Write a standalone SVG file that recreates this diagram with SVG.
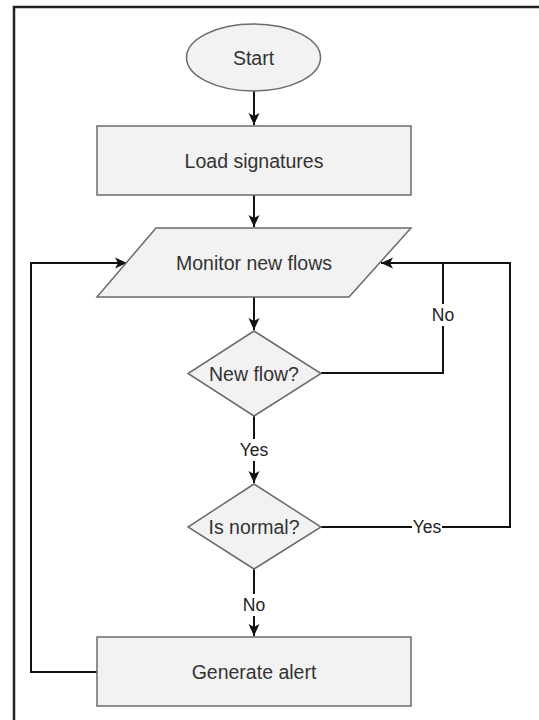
<svg xmlns="http://www.w3.org/2000/svg" width="539" height="720" viewBox="0 0 539 720">
<style>
.node{fill:#f2f2f2;stroke:#6b6b6b;stroke-width:1.5}
.t{font-family:"Liberation Sans",Arial,sans-serif;font-size:19.5px;fill:#333;text-anchor:middle}
.lbl{font-family:"Liberation Sans",Arial,sans-serif;font-size:17.5px;fill:#222;text-anchor:middle}
.c{fill:none;stroke:#111;stroke-width:2}
.bg{fill:#fff}
</style>
<defs>
<marker id="ah" markerUnits="userSpaceOnUse" markerWidth="14" markerHeight="12" refX="12" refY="6" orient="auto">
<path d="M12,6 L0,0.5 L3,6 L0,11.5 Z" fill="#111"/>
</marker>
</defs>
<rect width="539" height="720" fill="#fff"/>
<polyline points="14,720 14,7 539,7" fill="none" stroke="#222" stroke-width="2.5"/>
<g id="connectors">
<line class="c" x1="254" y1="91" x2="254" y2="125" marker-end="url(#ah)"/>
<line class="c" x1="254" y1="195" x2="254" y2="227" marker-end="url(#ah)"/>
<line class="c" x1="254" y1="297" x2="254" y2="330" marker-end="url(#ah)"/>
<line class="c" x1="254" y1="416" x2="254" y2="483" marker-end="url(#ah)"/>
<line class="c" x1="254" y1="569" x2="254" y2="636" marker-end="url(#ah)"/>
<polyline class="c" points="97,672 31,672 31,263 127,263" marker-end="url(#ah)"/>
<polyline class="c" points="321,373 443,373 443,263 381,263" marker-end="url(#ah)"/>
<polyline class="c" points="321,527 510,527 510,263 443,263"/>
<rect class="bg" x="240" y="439" width="28" height="22"/>
<text class="lbl" x="254" y="456">Yes</text>
<rect class="bg" x="431" y="304" width="24" height="22"/>
<text class="lbl" x="443" y="321">No</text>
<rect class="bg" x="412" y="516" width="30" height="22"/>
<text class="lbl" x="427" y="533">Yes</text>
<rect class="bg" x="242" y="594" width="24" height="22"/>
<text class="lbl" x="254" y="611">No</text>
</g>
<g id="start">
<ellipse class="node" cx="253.5" cy="57.5" rx="67" ry="33.5"/>
<text class="t" x="253.5" y="64.5">Start</text>
</g>
<g id="load">
<rect class="node" x="97" y="126" width="314" height="69"/>
<text class="t" x="254" y="167.5">Load signatures</text>
</g>
<g id="monitor">
<polygon class="node" points="156,228 411,228 349,297 97,297"/>
<text class="t" x="254" y="269.5">Monitor new flows</text>
</g>
<g id="newflow">
<polygon class="node" points="254,331 321,373.5 254,416 188,373.5"/>
<text class="t" x="254" y="380.5">New flow?</text>
</g>
<g id="isnormal">
<polygon class="node" points="254,484 321,527 254,569 188,527"/>
<text class="t" x="254" y="534">Is normal?</text>
</g>
<g id="alert">
<rect class="node" x="97" y="637" width="314" height="69"/>
<text class="t" x="254" y="678.5">Generate alert</text>
</g>
</svg>
